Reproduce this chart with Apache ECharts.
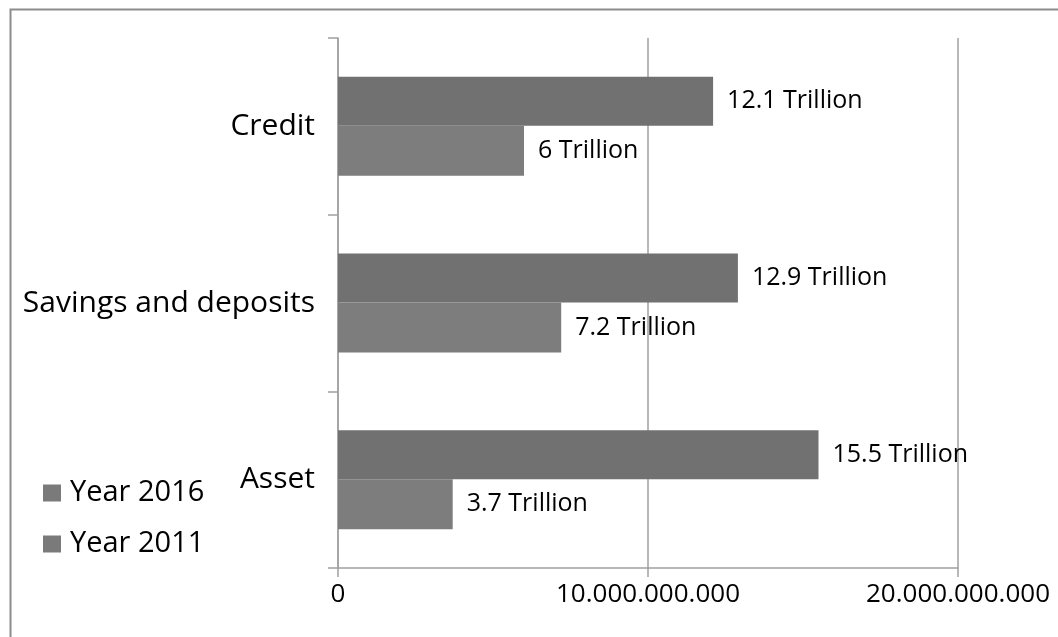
<!DOCTYPE html>
<html>
<head>
<meta charset="utf-8">
<script src="https://cdn.jsdelivr.net/npm/echarts@6/dist/echarts.min.js"></script>
<style>html,body{margin:0;padding:0;background:#fff}#c{width:1058px;height:637px}</style>
</head>
<body>
<div id="c"></div>
<script>
const categories = ['Asset', 'Savings and deposits', 'Credit'];
const seriesNames = ['Year 2016', 'Year 2011'];
const values2016 = [15.5e9, 12.9e9, 12.1e9];
const values2011 = [3.7e9, 7.2e9, 6e9];
const xTicks = [0, 10e9, 20e9];
const labelSuffix = ' Trillion';

const FONT = 'Open Sans';
function fmtDots(v) {
  return String(Math.round(v)).replace(/\B(?=(\d{3})+(?!\d))/g, '.');
}
const chart = echarts.init(document.getElementById('c'), null, {renderer: 'canvas'});
const labelCfg = {
  show: true, position: 'right', distance: 14,
  color: '#000', fontFamily: FONT, fontSize: 25,
  formatter: p => (Math.round(p.value / 1e8) / 10) + labelSuffix
};
chart.setOption({
  animation: false,
  backgroundColor: '#fff',
  graphic: [{
    type: 'rect', left: 8, top: 7, silent: true,
    shape: {width: 1070, height: 650},
    style: {fill: 'none', stroke: '#8c8c8c', lineWidth: 2}
  }],
  legend: {
    orient: 'vertical', left: 38, top: 473,
    itemWidth: 18, itemHeight: 17, itemGap: 21, icon: 'rect',
    data: seriesNames.map(n => ({name: n, itemStyle: {color: '#7a7a7a'}})),
    textStyle: {fontFamily: FONT, fontSize: 29, color: '#000', lineHeight: 30, padding: [0, 0, 0, 4]}
  },
  grid: {left: 338, right: 100, top: 38, bottom: 69, containLabel: false},
  xAxis: {
    type: 'value', min: xTicks[0], max: xTicks[xTicks.length - 1], interval: xTicks[1] - xTicks[0],
    axisLine: {show: true, lineStyle: {color: '#a0a0a0', width: 1.5}},
    axisTick: {show: true, length: 9, lineStyle: {color: '#a0a0a0', width: 1.5}},
    splitLine: {show: true, lineStyle: {color: '#a0a0a0', width: 1.5}},
    axisLabel: {margin: 14, color: '#000', fontFamily: FONT, fontSize: 26, formatter: fmtDots}
  },
  yAxis: {
    type: 'category', data: categories,
    axisLine: {show: true, lineStyle: {color: '#a0a0a0', width: 1.5}},
    axisTick: {show: true, length: 10, lineStyle: {color: '#a0a0a0', width: 1.5}},
    axisLabel: {margin: 23, color: '#000', fontFamily: FONT, fontSize: 30}
  },
  series: [
    {name: seriesNames[0], type: 'bar', data: values2016, barWidth: 49, barGap: '0%',
     itemStyle: {color: '#717171'}, label: labelCfg},
    {name: seriesNames[1], type: 'bar', data: values2011, barWidth: 50, barGap: '0%',
     itemStyle: {color: '#7d7d7d'}, label: labelCfg}
  ]
});
</script>
</body>
</html>
